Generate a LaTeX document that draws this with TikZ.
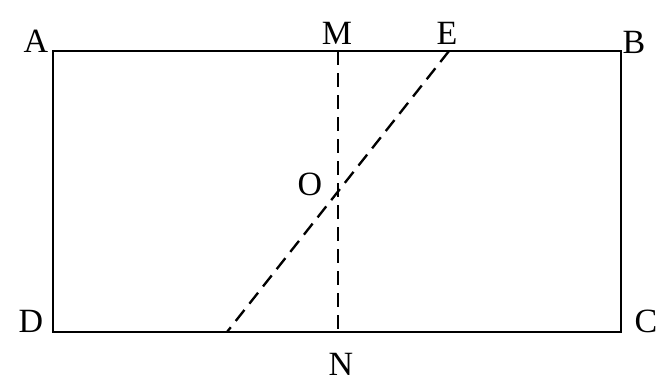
\documentclass[tikz,border=0pt]{standalone}
\usepackage{fontspec}
\setmainfont{Liberation Serif}
\usepackage{tikz}
\usetikzlibrary{positioning}

\begin{document}
\begin{tikzpicture}[
    x=0.03cm, y=-0.03cm,
    edge/.style={line width=2.1pt, line cap=round},
    aux/.style={line width=2pt, dash pattern=on 0.42cm off 0.24cm},
    lbl/.style={font=\fontsize{29}{34}\selectfont, inner sep=0pt}
  ]
  \useasboundingbox (0,0) rectangle (667,381);
  % ---------------- corners and points ----------------
  \coordinate (a) at (53,51);
  \coordinate (b) at (621,51);
  \coordinate (c) at (621,332);
  \coordinate (d) at (53,332);
  \coordinate (m) at (338,51);
  \coordinate (n) at (338,332);
  \coordinate (e) at (449,51);
  \coordinate (f) at (227,332);
  \coordinate (o) at (338,193);

  \draw[edge] (a) -- (b) -- (c) -- (d) -- cycle;
  \draw[aux] (m) -- (n);
  \draw[aux] (e) -- (f);

  % ---------------- labels ----------------
  \node[lbl] (la) at (36,41)  {A};
  \node[lbl] (lm) at (337,33) {M};
  \node[lbl] (le) at (447,33) {E};
  \node[lbl] (lb) at (634,42) {B};
  \node[lbl] (lo) at (310,184) {O};
  \node[lbl] (ld) at (31,321) {D};
  \node[lbl] (lc) at (646,321) {C};
  \node[lbl] (ln) at (341,364) {N};
\end{tikzpicture}
\end{document}
